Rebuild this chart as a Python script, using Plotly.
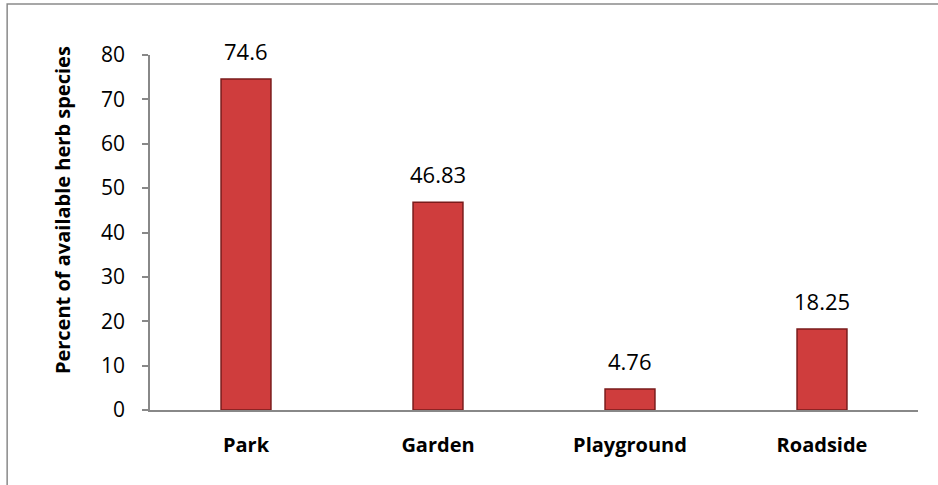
import plotly.graph_objects as go

# Herb species availability by site type
sites = ["Park", "Garden", "Playground", "Roadside"]
percent = [74.6, 46.83, 4.76, 18.25]
value_labels = ["74.6", "46.83", "4.76", "18.25"]
y_ticks = [0, 10, 20, 30, 40, 50, 60, 70, 80]
y_title = "Percent of available herb species"

FONT = "Open Sans, sans-serif"
AXIS_GREY = "#888888"

fig = go.Figure()

fig.add_trace(go.Bar(
    x=sites,
    y=percent,
    width=0.26,
    marker=dict(color="#cf3d3d", line=dict(color="#7a1b1b", width=1.5)),
    hoverinfo="x+y",
))

# value labels above each bar
for s, v, lab in zip(sites, percent, value_labels):
    fig.add_annotation(
        x=s, y=v, text=lab, showarrow=False,
        yanchor="bottom", yshift=11,
        font=dict(family=FONT, size=22, color="#000000"),
    )

# rotated y-axis title
fig.add_annotation(
    xref="paper", yref="paper", x=-0.1146, y=0.563,
    text=y_title, textangle=-90, showarrow=False,
    xanchor="center", yanchor="middle",
    font=dict(family=FONT, size=20, color="#000000", weight="bold"),
)

# outer chart frame
fig.add_shape(
    type="rect", xref="paper", yref="paper",
    x0=-0.186, x1=1.035, y0=-0.25, y1=1.1437,
    line=dict(color="#8a8a8a", width=1.5), fillcolor="rgba(0,0,0,0)",
    layer="below",
)

fig.update_layout(
    width=938, height=485,
    margin=dict(l=150, r=20, t=55, b=75),
    paper_bgcolor="white",
    plot_bgcolor="white",
    showlegend=False,
    bargap=0.74,
    xaxis=dict(
        showline=True, linecolor=AXIS_GREY, linewidth=1.5,
        ticks="", showgrid=False,
        tickfont=dict(family=FONT, size=20, color="#000000", weight="bold"),
        ticklabelstandoff=16,
    ),
    yaxis=dict(
        range=[0, 80],
        tickvals=y_ticks,
        showline=True, linecolor=AXIS_GREY, linewidth=1.5,
        ticks="outside", ticklen=6, tickcolor=AXIS_GREY, tickwidth=1.5,
        showgrid=False, zeroline=False,
        tickfont=dict(family=FONT, size=21, color="#000000"),
        ticklabelstandoff=13,
    ),
)

fig.write_html("out.html")
